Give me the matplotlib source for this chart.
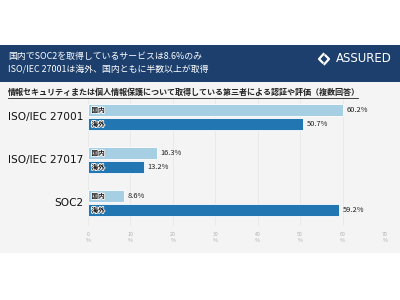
import matplotlib
matplotlib.use('Agg')
import matplotlib.pyplot as plt
import matplotlib.patheffects as pe
from matplotlib.patches import Rectangle
import numpy as np

plt.rcParams['font.family'] = ['Noto Sans CJK JP', 'DejaVu Sans']

# datos
categorias = ['ISO/IEC 27001', 'ISO/IEC 27017', 'SOC2']
kokunai = [60.2, 16.3, 8.6]
kaigai = [50.7, 13.2, 59.2]
series = ['国内', '海外']
ticks = [0, 10, 20, 30, 40, 50, 60, 70]

titulo1 = '国内でSOC2を取得しているサービスは8.6%のみ'
titulo2 = 'ISO/IEC 27001は海外、国内ともに半数以上が取得'
subtitulo = '情報セキュリティまたは個人情報保護について取得している第三者による認証や評価（複数回答）'

c_dom = '#a6cfe4'
c_ext = '#2277b3'
W, H = 400, 300

fig = plt.figure(figsize=(4, 3), dpi=100)
fig.patch.set_facecolor('white')

# fondos
fig.patches.append(Rectangle((0, 1 - 253 / H), 1, (253 - 82) / H, transform=fig.transFigure,
                             facecolor='#f4f4f4', edgecolor='none', zorder=-2))
fig.patches.append(Rectangle((0, 1 - 82 / H), 1, (82 - 45) / H, transform=fig.transFigure,
                             facecolor='#1c3f6d', edgecolor='none', zorder=-2))

fig.text(8 / W, 1 - 57 / H, titulo1, color='white', fontsize=6.4, va='center', ha='left')
fig.text(8 / W, 1 - 70 / H, titulo2, color='white', fontsize=6.4, va='center', ha='left')
fig.text(392 / W, 1 - 59 / H, 'ASSURED', color='white', fontsize=8.5, va='center', ha='right',
         family='DejaVu Sans')
# logo
lx, ly = 324 / W, 1 - 59 / H
dx, dy = 5 / W, 5 / H
fig.lines.append(plt.Line2D([lx - dx * 0.1, lx - dx, lx - dx * 0.3], [ly + dy, ly, ly - dy * 0.7],
                            transform=fig.transFigure, color='white', lw=1.6))
fig.lines.append(plt.Line2D([lx + dx * 0.1, lx + dx, lx + dx * 0.3], [ly - dy, ly, ly + dy * 0.7],
                            transform=fig.transFigure, color='white', lw=1.6))

fig.text(8 / W, 1 - 92 / H, subtitulo, color='#222222', fontsize=5.8, va='center', ha='left',
         fontweight='bold')
fig.lines.append(plt.Line2D([8 / W, 358 / W], [1 - 97.5 / H, 1 - 97.5 / H],
                            transform=fig.transFigure, color='#222222', lw=0.6))

# grafico
ax = fig.add_axes([88 / W, 1 - 226 / H, 297 / W, 129 / H])
ax.set_facecolor('none')
y = np.arange(len(categorias))
h = 0.30
off = 0.163
ax.barh(y - off, kokunai, height=h, color=c_dom, edgecolor='white', linewidth=0.6, zorder=3)
ax.barh(y + off, kaigai, height=h, color=c_ext, edgecolor='white', linewidth=0.6, zorder=3)

for i in range(len(categorias)):
    for val, yy, nombre in [(kokunai[i], y[i] - off, series[0]), (kaigai[i], y[i] + off, series[1])]:
        ax.text(val + 0.8, yy, '%.1f%%' % val, fontsize=5.4, va='center', ha='left', color='#222222')
        ax.text(0.8, yy, nombre, fontsize=4.8, va='center', ha='left', color='#111111',
                fontweight='bold', zorder=4,
                path_effects=[pe.withStroke(linewidth=1.2, foreground='white')])
    ax.text(-1.2, y[i], categorias[i], fontsize=7.6, va='center', ha='right', color='#111111',
            family='DejaVu Sans')

ax.set_xlim(0, 70)
ax.set_ylim(2.535, -0.465)
ax.set_xticks(ticks)
ax.set_xticklabels(['%d\n%%' % v for v in ticks], fontsize=3.8, color='#b0b0b0', linespacing=1.3)
ax.tick_params(axis='x', length=0, pad=4)
ax.set_yticks([])
ax.grid(True, axis='x', color='#e8e8e8', linewidth=0.6, zorder=0)
for s in ax.spines.values():
    s.set_visible(False)

plt.savefig('out.png', dpi=100)
plt.close()
